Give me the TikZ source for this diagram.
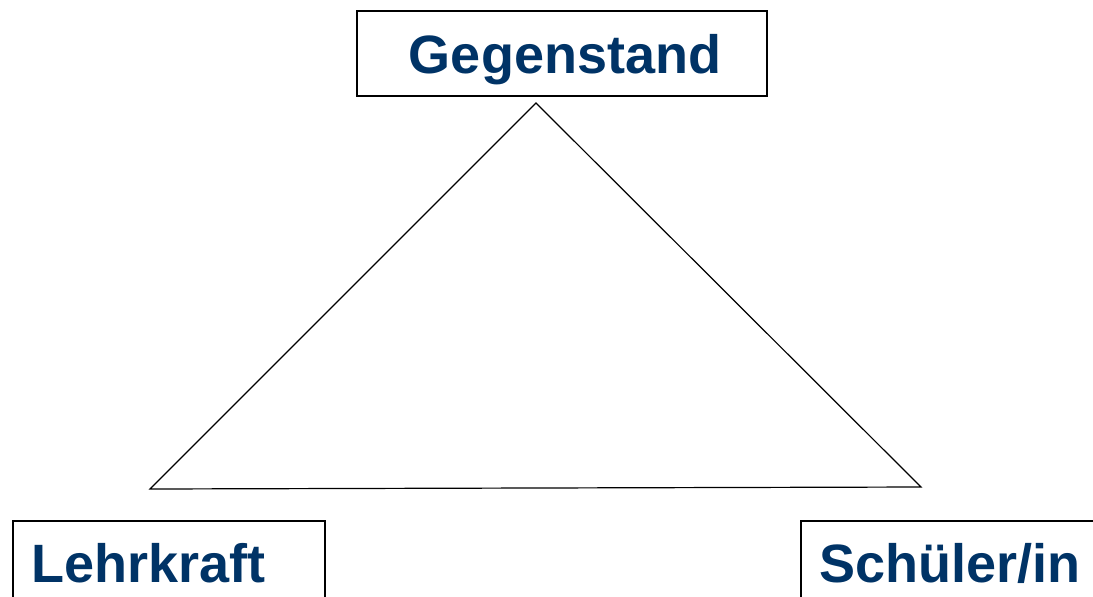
\documentclass[tikz,border=0pt]{standalone}
\usepackage{fontspec}
\setmainfont{Liberation Sans}
\usepackage{tikz}

\definecolor{titleblue}{RGB}{0,51,102}

\begin{document}
\begin{tikzpicture}[x=0.5pt,y=-0.5pt,
  box/.style={rectangle, draw, line width=0.75pt, font=\bfseries\fontsize{27}{30}\selectfont, text=titleblue},
  cornerbox/.style={box, anchor=north west, inner xsep=9.5pt, inner ysep=0pt, text height=31pt, text depth=40pt, align=left}]
\useasboundingbox (0,0) rectangle (1093,596);

\node (gegenstand) at (562,53.5) [box, minimum width=205pt, minimum height=42.5pt, text height=19.5pt, text depth=0pt] {\hspace{3pt}Gegenstand};
\node (lehrkraft) at (12,520) [cornerbox, text width=137pt] {Lehrkraft};
\node (schueler) at (800,520) [cornerbox, text width=160pt] {Schüler/in};

\coordinate (top) at (536,103);
\coordinate (left) at (150,489);
\coordinate (right) at (921,487);
\draw[line width=0.6pt] (top) -- (left) -- (right) -- cycle;
\end{tikzpicture}
\end{document}
